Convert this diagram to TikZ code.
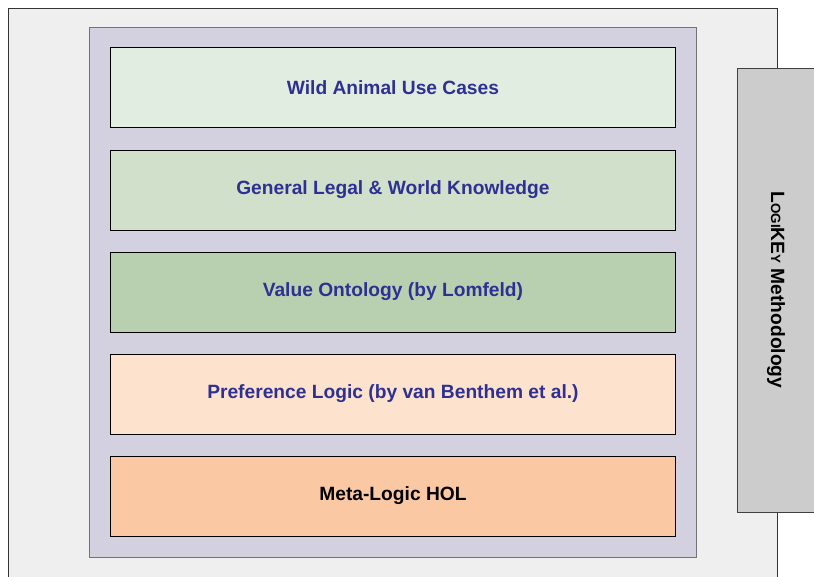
\documentclass[tikz,border=0pt]{standalone}
\usepackage{fontspec}
\setmainfont{Liberation Sans}
\begin{document}
\begin{tikzpicture}[x=1pt,y=-1pt,
  layerbox/.style={draw=black,line width=0.9pt,minimum width=565pt,minimum height=80pt,
    inner sep=0pt,font=\bfseries\fontsize{19.2}{21}\selectfont,text=layertext},
  ]
\definecolor{outerbg}{HTML}{EFEFEF}
\definecolor{stackbg}{HTML}{D3D1E0}
\definecolor{layertext}{HTML}{2E3192}
\definecolor{useC}{HTML}{E2EDE2}
\definecolor{worldC}{HTML}{D1E0CB}
\definecolor{valueC}{HTML}{B8CFB0}
\definecolor{prefC}{HTML}{FDE2CD}
\definecolor{holC}{HTML}{FBC8A4}
\definecolor{methodC}{HTML}{CCCCCC}
\useasboundingbox (0,0) rectangle (814,576);
% surrounding frame
\draw[fill=outerbg,draw=black!80,line width=0.6pt] (8,590) -- (8,8) -- (777,8) -- (777,590);
% methodology bar
\node[draw=black!75,fill=methodC,line width=0.8pt,minimum width=90pt,minimum height=444pt,
  inner sep=0pt,anchor=north west] (method) at (737,68) {};
\node[rotate=-90,font=\bfseries\fontsize{19.2}{21}\selectfont] (methodtext) at (776,290)
  {L{\fontsize{13.4}{14}\selectfont OGI}KE{\fontsize{13.4}{14}\selectfont Y} Methodology};
% layer stack
\node[draw=black!55,fill=stackbg,line width=0.9pt,minimum width=607pt,minimum height=530pt,
  inner sep=0pt,anchor=north west] (stack) at (89,27) {};
\node[layerbox,fill=useC,anchor=north west] (uses) at (110,47) {Wild Animal Use Cases};
\node[layerbox,fill=worldC,anchor=north west] (world) at (110,149.5) {General Legal \& World Knowledge};
\node[layerbox,fill=valueC,anchor=north west] (value) at (110,251.5) {Value Ontology (by Lomfeld)};
\node[layerbox,fill=prefC,anchor=north west] (pref) at (110,353.5) {Preference Logic (by van Benthem et al.)};
\node[layerbox,fill=holC,anchor=north west,text=black] (hol) at (110,455.5) {Meta-Logic HOL};
\end{tikzpicture}
\end{document}
